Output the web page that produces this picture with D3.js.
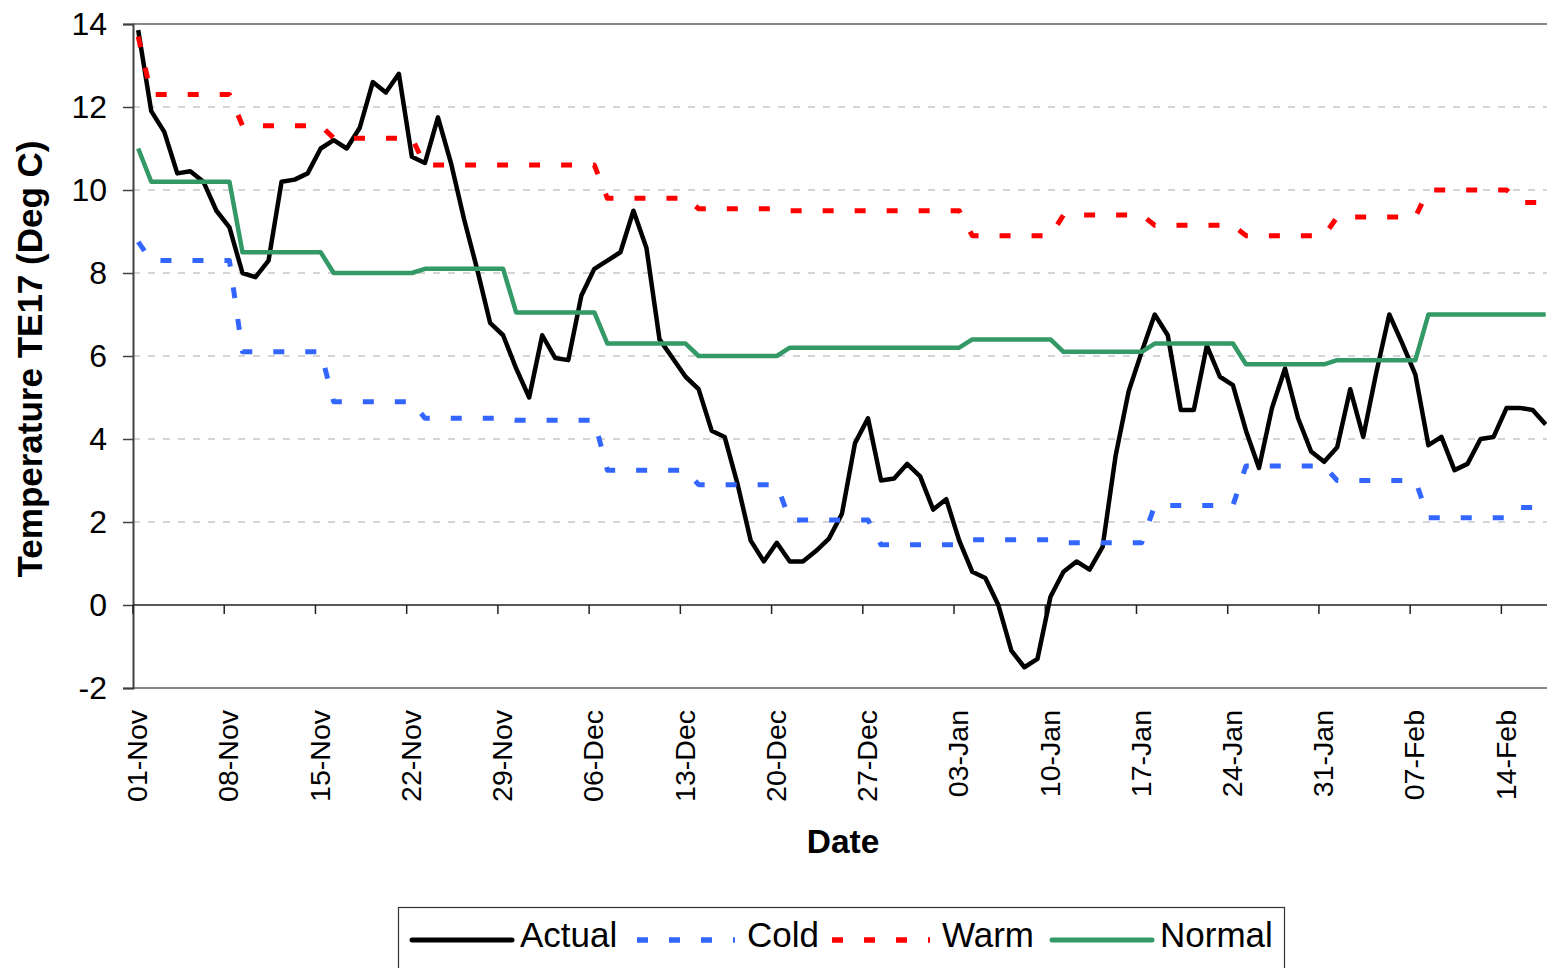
<!DOCTYPE html>
<html>
<head>
<meta charset="utf-8">
<script src="https://cdn.jsdelivr.net/npm/d3@7"></script>
<style>
  html, body { margin: 0; padding: 0; background: #fff; }
  svg { display: block; font-family: "Liberation Sans", Arial, sans-serif; }
</style>
</head>
<body>
<div id="chart"></div>
<script>
//Data: one value per day, starting 01-Nov
const seriesNames = ["Actual", "Cold", "Warm", "Normal"];
const tickLabels = ["01-Nov", "08-Nov", "15-Nov", "22-Nov", "29-Nov", "06-Dec", "13-Dec", "20-Dec",
  "27-Dec", "03-Jan", "10-Jan", "17-Jan", "24-Jan", "31-Jan", "07-Feb", "14-Feb"];
const yTicks = [-2, 0, 2, 4, 6, 8, 10, 12, 14];

const actual = [
  13.85, 11.9, 11.4, 10.4, 10.45, 10.2, 9.5,
  9.1, 8.0, 7.9, 8.3, 10.2, 10.25, 10.4,
  11.0, 11.2, 11.0, 11.5, 12.6, 12.35, 12.8,
  10.8, 10.65, 11.75, 10.65, 9.3, 8.1, 6.8,
  6.5, 5.7, 5.0, 6.5, 5.95, 5.9, 7.45,
  8.1, 8.3, 8.5, 9.5, 8.6, 6.4, 5.95,
  5.5, 5.2, 4.2, 4.05, 2.9, 1.55, 1.05,
  1.5, 1.05, 1.05, 1.3, 1.6, 2.2, 3.9,
  4.5, 3.0, 3.05, 3.4, 3.1, 2.3, 2.55,
  1.55, 0.8, 0.65, 0.0, -1.1, -1.5, -1.3,
  0.2, 0.8, 1.05, 0.85, 1.4, 3.6, 5.15,
  6.1, 7.0, 6.5, 4.7, 4.7, 6.25, 5.5,
  5.3, 4.2, 3.3, 4.75, 5.7, 4.5, 3.7,
  3.45, 3.8, 5.2, 4.05, 5.6, 7.0, 6.3,
  5.55, 3.85, 4.05, 3.25, 3.4, 4.0, 4.05,
  4.75, 4.75, 4.7, 4.35
];

const cold = [
  8.75,
  8.3, 8.3, 8.3, 8.3, 8.3, 8.3, 8.3,
  6.1, 6.1, 6.1, 6.1, 6.1, 6.1, 6.1,
  4.9, 4.9, 4.9, 4.9, 4.9, 4.9, 4.9,
  4.5, 4.5, 4.5, 4.5, 4.5, 4.5, 4.5,
  4.45, 4.45, 4.45, 4.45, 4.45, 4.45, 4.45,
  3.25, 3.25, 3.25, 3.25, 3.25, 3.25, 3.25,
  2.9, 2.9, 2.9, 2.9, 2.9, 2.9, 2.9,
  2.05, 2.05, 2.05, 2.05, 2.05, 2.05, 2.05,
  1.45, 1.45, 1.45, 1.45, 1.45, 1.45, 1.45,
  1.57, 1.57, 1.57, 1.57, 1.57, 1.57, 1.57,
  1.5, 1.5, 1.5, 1.5, 1.5, 1.5, 1.5,
  2.4, 2.4, 2.4, 2.4, 2.4, 2.4, 2.4,
  3.35, 3.35, 3.35, 3.35, 3.35, 3.35, 3.35,
  3.0, 3.0, 3.0, 3.0, 3.0, 3.0, 3.0,
  2.1, 2.1, 2.1, 2.1, 2.1, 2.1, 2.1,
  2.35, 2.35, 2.35
];

const warm = [
  13.7,
  12.3, 12.3, 12.3, 12.3, 12.3, 12.3, 12.3,
  11.55, 11.55, 11.55, 11.55, 11.55, 11.55, 11.55,
  11.25, 11.25, 11.25, 11.25, 11.25, 11.25, 11.25,
  10.6, 10.6, 10.6, 10.6, 10.6, 10.6, 10.6,
  10.6, 10.6, 10.6, 10.6, 10.6, 10.6, 10.6,
  9.8, 9.8, 9.8, 9.8, 9.8, 9.8, 9.8,
  9.55, 9.55, 9.55, 9.55, 9.55, 9.55, 9.55,
  9.5, 9.5, 9.5, 9.5, 9.5, 9.5, 9.5,
  9.5, 9.5, 9.5, 9.5, 9.5, 9.5, 9.5,
  8.9, 8.9, 8.9, 8.9, 8.9, 8.9, 8.9,
  9.4, 9.4, 9.4, 9.4, 9.4, 9.4, 9.4,
  9.15, 9.15, 9.15, 9.15, 9.15, 9.15, 9.15,
  8.9, 8.9, 8.9, 8.9, 8.9, 8.9, 8.9,
  9.35, 9.35, 9.35, 9.35, 9.35, 9.35, 9.35,
  10.0, 10.0, 10.0, 10.0, 10.0, 10.0, 10.0,
  9.7, 9.7, 9.7
];

const normal = [
  11.0,
  10.2, 10.2, 10.2, 10.2, 10.2, 10.2, 10.2,
  8.5, 8.5, 8.5, 8.5, 8.5, 8.5, 8.5,
  8.0, 8.0, 8.0, 8.0, 8.0, 8.0, 8.0,
  8.1, 8.1, 8.1, 8.1, 8.1, 8.1, 8.1,
  7.05, 7.05, 7.05, 7.05, 7.05, 7.05, 7.05,
  6.3, 6.3, 6.3, 6.3, 6.3, 6.3, 6.3,
  6.0, 6.0, 6.0, 6.0, 6.0, 6.0, 6.0,
  6.2, 6.2, 6.2, 6.2, 6.2, 6.2, 6.2,
  6.2, 6.2, 6.2, 6.2, 6.2, 6.2, 6.2,
  6.4, 6.4, 6.4, 6.4, 6.4, 6.4, 6.4,
  6.1, 6.1, 6.1, 6.1, 6.1, 6.1, 6.1,
  6.3, 6.3, 6.3, 6.3, 6.3, 6.3, 6.3,
  5.8, 5.8, 5.8, 5.8, 5.8, 5.8, 5.8,
  5.9, 5.9, 5.9, 5.9, 5.9, 5.9, 5.9,
  7.0, 7.0, 7.0, 7.0, 7.0, 7.0, 7.0,
  7.0, 7.0, 7.0
];

//Chart Variables and Constants
const width = 1547;
const height = 968;
const plot = { left: 133, right: 1547, top: 24, bottom: 688 };
const tickStep = 7;
const pointOffset = 0.4;
const styles = {
  Actual: { color: "#000000", width: 4.5, dash: null, legendX: 410 },
  Cold: { color: "#3366FF", width: 5, dash: "11,21", legendX: 637 },
  Warm: { color: "#FF0000", width: 5, dash: "11,21", legendX: 832 },
  Normal: { color: "#339966", width: 4.5, dash: null, legendX: 1050 }
};
const seriesData = { Actual: actual, Cold: cold, Warm: warm, Normal: normal };

//Scales
const x = d3.scaleLinear().domain([0, 108.5]).range([plot.left, plot.right]);
const y = d3.scaleLinear().domain([-2, 14]).range([plot.bottom, plot.top]);

const svg = d3.select("#chart")
  .append("svg")
  .attr("width", width)
  .attr("height", height)
  .attr("viewBox", `0 0 ${width} ${height}`);

//Gridlines
svg.append("g")
  .selectAll("line")
  .data(yTicks.filter((v) => v > 0 && v < 14))
  .enter()
  .append("line")
  .attr("x1", plot.left)
  .attr("x2", plot.right)
  .attr("y1", (d) => y(d))
  .attr("y2", (d) => y(d))
  .attr("stroke", "#c8c8c8")
  .attr("stroke-width", 1.5)
  .attr("stroke-dasharray", "7,8");

//Plot border (top and bottom)
svg.append("line")
  .attr("x1", plot.left).attr("x2", plot.right)
  .attr("y1", plot.top).attr("y2", plot.top)
  .attr("stroke", "#888").attr("stroke-width", 2);
svg.append("line")
  .attr("x1", plot.left).attr("x2", plot.right)
  .attr("y1", plot.bottom).attr("y2", plot.bottom)
  .attr("stroke", "#888").attr("stroke-width", 2);

//Y Axis
const yAxis = svg.append("g")
  .attr("transform", `translate(${plot.left},0)`)
  .call(d3.axisLeft(y).tickValues(yTicks).tickSize(10).tickPadding(16).tickFormat((d) => String(d)));
yAxis.select(".domain").attr("stroke", "#404040").attr("stroke-width", 2);
yAxis.selectAll(".tick line").attr("stroke", "#404040").attr("stroke-width", 1.5);
yAxis.selectAll(".tick text")
  .attr("font-size", "32px")
  .attr("font-family", "Liberation Sans, Arial, sans-serif")
  .attr("fill", "#000");

//X Axis at zero
const xTickIdx = tickLabels.map((d, i) => i * tickStep);
svg.append("line")
  .attr("x1", plot.left).attr("x2", plot.right)
  .attr("y1", y(0)).attr("y2", y(0))
  .attr("stroke", "#222").attr("stroke-width", 1.5);
svg.append("g")
  .selectAll("line")
  .data(xTickIdx)
  .enter()
  .append("line")
  .attr("x1", (d) => x(d)).attr("x2", (d) => x(d))
  .attr("y1", y(0)).attr("y2", y(0) + 9)
  .attr("stroke", "#222").attr("stroke-width", 1.5);

//X Tick Labels (below plot, rotated)
svg.append("g")
  .selectAll("text")
  .data(tickLabels)
  .enter()
  .append("text")
  .attr("transform", (d, i) => `translate(${x(xTickIdx[i]) + 4}, ${plot.bottom + 22}) rotate(-90)`)
  .attr("text-anchor", "end")
  .attr("dy", "0.36em")
  .attr("font-size", "28.5px")
  .attr("fill", "#000")
  .text((d) => d);

//Axis Titles
svg.append("text")
  .attr("transform", `translate(42, 359) rotate(-90)`)
  .attr("text-anchor", "middle")
  .attr("font-size", "35px")
  .attr("font-weight", "bold")
  .text("Temperature TE17 (Deg C)");

svg.append("text")
  .attr("x", 843)
  .attr("y", 853)
  .attr("text-anchor", "middle")
  .attr("font-size", "33.5px")
  .attr("font-weight", "bold")
  .text("Date");

//Series Lines
const line = d3.line()
  .x((d, i) => x(i + pointOffset))
  .y((d) => y(d));

svg.append("g")
  .selectAll("path")
  .data(seriesNames)
  .enter()
  .append("path")
  .attr("d", (name) => line(seriesData[name]))
  .attr("fill", "none")
  .attr("stroke", (name) => styles[name].color)
  .attr("stroke-width", (name) => styles[name].width)
  .attr("stroke-dasharray", (name) => styles[name].dash)
  .attr("stroke-linejoin", "round");

//Legend
const legend = svg.append("g").attr("class", "legend");
legend.append("rect")
  .attr("x", 398.5)
  .attr("y", 907.5)
  .attr("width", 886)
  .attr("height", 80)
  .attr("fill", "#fff")
  .attr("stroke", "#333")
  .attr("stroke-width", 1.2);

seriesNames.forEach((name) => {
  const s = styles[name];
  const solid = !s.dash;
  const lx = s.legendX;
  legend.append("line")
    .attr("x1", solid ? lx + 2 : lx)
    .attr("x2", solid ? lx + 102 : lx + 98)
    .attr("y1", 940)
    .attr("y2", 940)
    .attr("stroke", s.color)
    .attr("stroke-width", solid ? 5 : 5.5)
    .attr("stroke-dasharray", s.dash)
    .attr("stroke-linecap", solid ? "round" : "butt");
  legend.append("text")
    .attr("x", lx + 110)
    .attr("y", 947)
    .attr("font-size", "35px")
    .attr("fill", "#000")
    .text(name);
});
</script>
</body>
</html>
